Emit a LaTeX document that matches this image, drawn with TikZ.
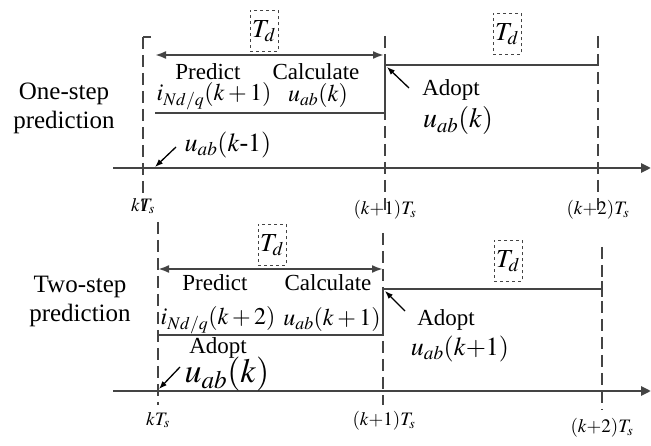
\documentclass[tikz,border=0pt]{standalone}
\usepackage{mathptmx}
\usepackage{fontspec}
\setmainfont{Liberation Serif}
\usetikzlibrary{arrows.meta,positioning}

\definecolor{linegray}{HTML}{444444}

\begin{document}
\begin{tikzpicture}[
  x=1pt, y=-1pt,
  lbl/.style={font=\fontsize{25}{29}\selectfont, inner sep=0pt},
  txt/.style={font=\fontsize{23}{25}\selectfont, inner sep=0pt},
  row/.style={font=\fontsize{24}{26}\selectfont, inner sep=0pt},
  mth/.style={font=\fontsize{26}{28}\selectfont, inner sep=0pt},
  big/.style={font=\fontsize{34}{36}\selectfont, inner sep=0pt},
  tick/.style={font=\fontsize{19}{21}\selectfont, inner sep=0pt},
  axis/.style={draw=linegray, line width=2.6pt, -{Triangle[length=10pt,width=9pt]}},
  guide/.style={draw=linegray, line width=1.8pt, dash pattern=on 12pt off 6pt},
  seq/.style={draw=linegray, line width=2pt},
  span/.style={draw=linegray, line width=2pt, {Latex[length=11pt,width=8pt]}-{Latex[length=11pt,width=8pt]}},
  tdbox/.style={draw=linegray, dashed, line width=0.7pt, minimum width=28pt, minimum height=41pt, inner sep=0pt, font=\fontsize{26}{28}\selectfont},
  pointer/.style={draw=black, line width=1.3pt, -{Latex[length=8pt,width=6pt]}}
]
\useasboundingbox (0,0) rectangle (651,446);

% ---- one-step prediction ----
\node[lbl, align=center] (one) at (64,108) {One-step\\prediction};

\coordinate (ka) at (143,37);
\coordinate (kb) at (143,215);
\coordinate (ja) at (385,36);
\coordinate (jb) at (385,215);
\coordinate (la) at (598,36);
\coordinate (lb) at (598,215);
\draw[guide] (ka) -- (kb);
\draw[linegray, line width=1.8pt] (151,37) -- (ka);
\draw[guide] (ja) -- (jb);
\draw[guide] (la) -- (lb);

\coordinate (ax0) at (113,168);
\coordinate (ax1) at (651,168);
\draw[axis] (ax0) -- (ax1);

\coordinate (sa) at (155,55);
\coordinate (sb) at (384,55);
\draw[span] (sa) -- (sb);
\node[tdbox] (td1) at (264,31) {$T_d$};
\node[tdbox] (td2) at (507,34) {$T_d$};

\node[txt] (pred1) at (208,72) {Predict};
\node[txt] (calc1) at (316,72) {Calculate};
\node[row] (inq1) at (214,96) {$i_{Nd/q}(k+1)$};
\node[row] (uab1) at (318,96) {$u_{ab}(k)$};

\coordinate (p0) at (155,113);
\coordinate (p1) at (385,113);
\coordinate (p2) at (385,65);
\coordinate (p3) at (598,65);
\draw[seq] (p0) -- (p1) -- (p2) -- (p3);

\coordinate (q1) at (409,88);
\draw[pointer] (q1) -- (387,67);
\node[txt] (adopt1) at (451,90) {Adopt};
\node[mth, font=\fontsize{28}{30}\selectfont] (uk1) at (458,121) {$u_{ab}(k)$};

\node[mth] (ukm) at (228,145) {$u_{ab}(k$-$1)$};
\coordinate (q2) at (176,147);
\draw[pointer] (q2) -- (155,167);

\node[tick] (kt1) at (143,206) {$kT_s$};
\node[tick] (k1t1) at (385,210) {$(k{+}1)T_s$};
\node[tick] (k2t1) at (598,210) {$(k{+}2)T_s$};

% ---- two-step prediction ----
\node[lbl, align=center] (two) at (80,301) {Two-step\\prediction};

\coordinate (ma) at (158,222);
\coordinate (mb) at (158,405);
\coordinate (na) at (383,233);
\coordinate (nb) at (383,405);
\coordinate (oa) at (602,247);
\coordinate (ob) at (602,410);
\draw[guide] (ma) -- (mb);
\draw[guide] (na) -- (nb);
\draw[guide] (oa) -- (ob);

\coordinate (bx0) at (113,391);
\coordinate (bx1) at (651,391);
\draw[axis] (bx0) -- (bx1);

\coordinate (ta) at (158,269);
\coordinate (tb) at (383,269);
\draw[span] (ta) -- (tb);
\node[tdbox] (td3) at (272,245) {$T_d$};
\node[tdbox] (td4) at (508,261) {$T_d$};

\node[txt] (pred2) at (215,283) {Predict};
\node[txt] (calc2) at (328,283) {Calculate};
\node[row] (inq2) at (218,320) {$i_{Nd/q}(k+2)$};
\node[row] (uab2) at (332,320) {$u_{ab}(k+1)$};

\coordinate (r1) at (158,335);
\coordinate (r2) at (383,335);
\coordinate (r3) at (383,289);
\coordinate (r4) at (602,289);
\draw[seq] (158,342) -- (r1) -- (r2) -- (r3) -- (r4);
\draw[seq] (602,281) -- (602,297);

\node[txt] (adopt2) at (218,348) {Adopt};
\node[big] (uk2) at (227,374) {$u_{ab}(k)$};
\coordinate (q3) at (180,367);
\draw[pointer] (q3) -- (159,389);

\coordinate (q4) at (405,311);
\draw[pointer] (q4) -- (385,291);
\node[txt] (adopt3) at (446,320) {Adopt};
\node[mth] (uk3) at (460,349) {$u_{ab}(k{+}1)$};

\node[tick] (kt2) at (158,420) {$kT_s$};
\node[tick] (k1t2) at (384,421) {$(k{+}1)T_s$};
\node[tick] (k2t2) at (602,428) {$(k{+}2)T_s$};
\end{tikzpicture}
\end{document}
